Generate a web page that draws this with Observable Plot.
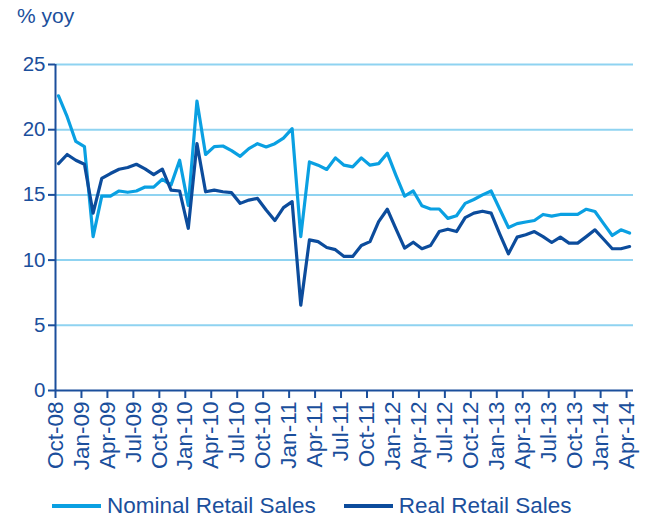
<!DOCTYPE html>
<html>
<head>
<meta charset="utf-8">
<script src="https://cdn.jsdelivr.net/npm/d3@7"></script>
<script src="https://cdn.jsdelivr.net/npm/@observablehq/plot@0.6"></script>
<style>
  body { margin: 0; background: #fff; font-family: "Liberation Sans", Arial, sans-serif; }
  #wrap { position: relative; width: 654px; height: 519px; overflow: hidden; }
  #unit { position: absolute; left: 17px; top: 4px; font-size: 21px; color: #1b4f9c; }
  #chart { position: absolute; left: 0; top: 0; }
  #legend { position: absolute; left: 52px; top: 493px; font-size: 22.5px; color: #1b4f9c; display: flex; align-items: center; white-space: nowrap; }
  .sw { display: inline-block; width: 49px; height: 4px; margin-right: 6px; }
  .item { display: flex; align-items: center; margin-right: 28px; }
</style>
</head>
<body>
<div id="wrap">
  <div id="chart"></div>
  <div id="unit">% yoy</div>
  <div id="legend"></div>
</div>
<script>
const tickLabels = ["Oct-08","Jan-09","Apr-09","Jul-09","Oct-09","Jan-10","Apr-10","Jul-10","Oct-10","Jan-11","Apr-11","Jul-11","Oct-11","Jan-12","Apr-12","Jul-12","Oct-12","Jan-13","Apr-13","Jul-13","Oct-13","Jan-14","Apr-14"];
const seriesNames = ["Nominal Retail Sales", "Real Retail Sales"];
const nominal = [22.6,21.0,19.1,18.7,11.8,14.9,14.9,15.3,15.2,15.3,15.6,15.6,16.2,15.75,17.66,14.2,22.2,18.1,18.7,18.75,18.4,17.96,18.55,18.93,18.68,18.93,19.36,20.08,11.8,17.53,17.28,16.95,17.84,17.28,17.15,17.84,17.28,17.4,18.2,16.5,14.9,15.3,14.17,13.92,13.92,13.2,13.4,14.35,14.65,15.0,15.3,13.9,12.5,12.8,12.92,13.04,13.5,13.37,13.5,13.5,13.5,13.9,13.73,12.8,11.89,12.32,12.07];
const real = [17.4,18.1,17.66,17.35,13.6,16.26,16.64,16.97,17.1,17.35,17.0,16.56,16.97,15.37,15.3,12.44,18.93,15.24,15.37,15.24,15.17,14.35,14.6,14.73,13.84,13.03,14.02,14.48,6.54,11.55,11.42,10.97,10.8,10.28,10.28,11.12,11.42,12.95,13.9,12.4,10.92,11.37,10.87,11.12,12.19,12.37,12.19,13.26,13.6,13.75,13.6,12.0,10.48,11.76,11.94,12.19,11.8,11.35,11.76,11.3,11.3,11.8,12.32,11.6,10.87,10.87,11.04];
const yTicks = [0,5,10,15,20,25];

const colors = ["#0aa0e2", "#0c4c9c"];
const axisColor = "#1b4f9c";
const gridColor = "#8fd3f1";

const rows = [];
nominal.forEach((v, i) => rows.push({i, v, s: seriesNames[0]}));
real.forEach((v, i) => rows.push({i, v, s: seriesNames[1]}));

const chart = Plot.plot({
  width: 654,
  height: 478,
  marginLeft: 55,
  marginRight: 21,
  marginTop: 64,
  marginBottom: 88,
  style: { fontFamily: "'Liberation Sans', Arial, sans-serif", color: axisColor, background: "transparent" },
  x: { type: "linear", domain: [0, 66.8] },
  y: { domain: [0, 25] },
  color: { domain: seriesNames, range: colors },
  marks: [
    Plot.gridY(yTicks.filter(d => d > 0), { stroke: gridColor, strokeOpacity: 1, strokeWidth: 2 }),
    Plot.axisY(yTicks, { tickSize: 7, tickPadding: 3, fontSize: 20.5, stroke: axisColor, strokeWidth: 2, fill: axisColor, label: null }),
    Plot.axisX(d3.range(0, 67, 3), { tickSize: 8, tickPadding: 3, fontSize: 22.5, tickRotate: -90, stroke: axisColor, strokeWidth: 2, fill: axisColor, label: null, tickFormat: d => tickLabels[d / 3] }),
    Plot.ruleY([0], { stroke: axisColor, strokeWidth: 2 }),
    Plot.ruleX([0], { stroke: axisColor, strokeWidth: 2 }),
    Plot.line(rows, { x: "i", y: "v", z: "s", stroke: "s", strokeWidth: 3.2, strokeLinejoin: "round", dx: 3 })
  ]
});
document.getElementById("chart").appendChild(chart);

const legend = document.getElementById("legend");
seriesNames.forEach((name, k) => {
  const item = document.createElement("span");
  item.className = "item";
  const sw = document.createElement("span");
  sw.className = "sw";
  sw.style.background = colors[k];
  item.appendChild(sw);
  item.appendChild(document.createTextNode(name));
  legend.appendChild(item);
});
</script>
</body>
</html>
